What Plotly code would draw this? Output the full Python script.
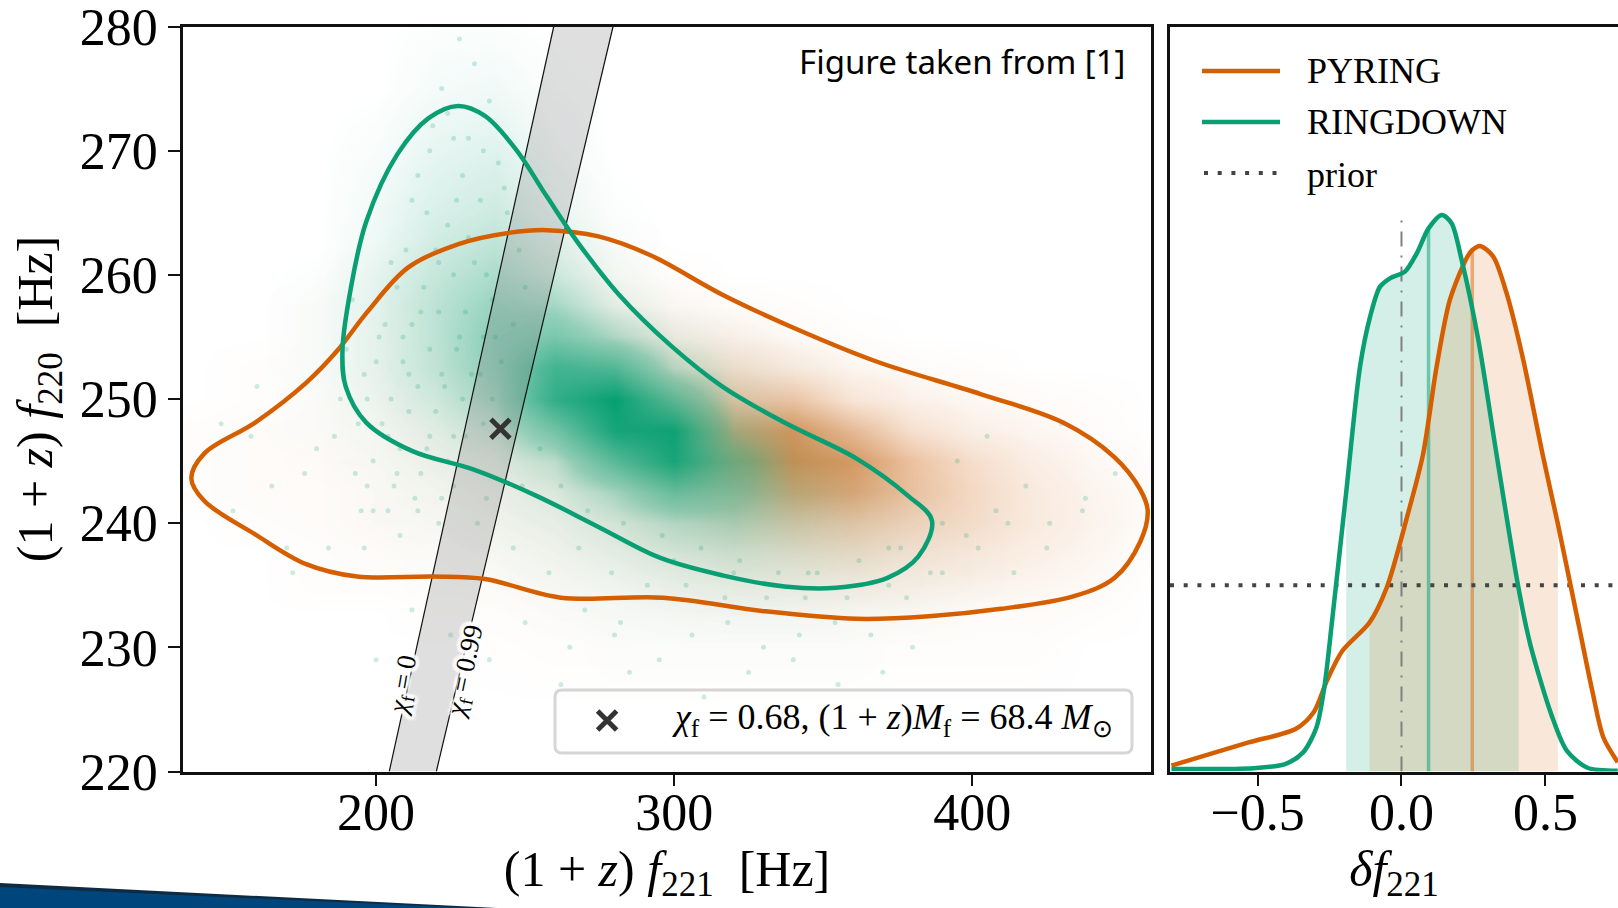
import plotly.graph_objects as go

ORANGE = "#D55E00"
GREEN = "#0A9E73"
SERIF = "Liberation Serif"
W, H = 1618, 908

# ---- left panel data
orange_cx = [257.3,274.6,291.9,316.2,340.4,368.1,402.8,430.5,447.8,456.4,458.9,456.4,447.8,433.9,409.7,385.5,361.2,330.5,296.3,262,236.5,219.4,193.6,176.5,159.4,142.3,138,142.3,159.4,176.5,187,197,210.8,227.9,245,257.3]
orange_cy = [263.6,263.1,261.6,258.4,255.7,253.0,250.4,248.1,245.3,242.7,241,238.5,235.6,234.1,233.1,232.5,232.3,232.9,234,234,235.5,235.7,235.7,236.7,239.1,241.8,243.6,245.6,248.1,251.3,253.9,257.0,260.6,262.5,263.4,263.6]
green_cx = [227.5,236.5,246.9,257.3,267.7,281.5,298.9,316.2,337,361.2,378.5,386.5,381.9,371.6,354.3,337,316.2,295.4,274.6,253.8,233,212.2,196.7,189.8,188.7,191.5,196.7,207.1,217.5,227.5]
green_cy = [273.6,272.8,270.1,266.3,262.6,258.4,254.3,251,248.1,245.2,242.2,240.2,237.3,235.6,234.8,234.9,235.8,237.2,239.7,242.2,244.3,245.8,248.1,251,253.9,258.9,264.3,269.7,272.6,273.6]
chi0_x = [204.4, 259.6]
chi99_x = [220.2, 279.5]
chi_y = [220, 280]
mark_x = [241.7]
mark_y = [247.6]
legend_mark_x = [277.5]
legend_mark_y = [224.1]

dens_x = [140,160,180,200,220,240,260,280,300,320,340,360,380,400,420,440,460]
dens_y = [225,230,232.5,235,237.5,240,242.5,245,247.5,250,252.5,255,257.5,260,262.5,265,270,275,280]
orange_z = [
 [0,0,0,0,0,0,0,0,0,0,0,0,0,0,0,0,0],
 [0,0,0,0,0,.005,.01,.01,.01,.01,.01,.01,.01,.01,.01,0,0],
 [0,0,0,0,.01,.01,.02,.02,.02,.03,.03,.03,.03,.02,.02,.01,0],
 [0,0,.01,.01,.01,.02,.03,.03,.05,.07,.08,.10,.09,.07,.05,.03,0],
 [0,0,.01,.02,.02,.03,.04,.05,.08,.13,.22,.28,.22,.16,.10,.05,.01],
 [0,.01,.02,.03,.03,.04,.05,.08,.13,.28,.46,.50,.38,.28,.15,.07,.02],
 [.01,.02,.02,.03,.04,.05,.07,.10,.20,.46,.80,.80,.55,.33,.15,.06,.02],
 [.01,.02,.03,.03,.05,.06,.09,.14,.30,.72,1.0,.92,.55,.28,.11,.04,.01],
 [.01,.02,.02,.03,.05,.07,.10,.16,.34,.76,.95,.62,.25,.10,.05,.02,0],
 [0,.01,.02,.03,.04,.06,.10,.16,.28,.52,.52,.20,.08,.04,.02,.01,0],
 [0,.01,.01,.02,.04,.06,.09,.13,.20,.26,.14,.05,.02,.01,0,0,0],
 [0,0,.01,.02,.03,.05,.07,.09,.10,.08,.03,.01,0,0,0,0,0],
 [0,0,.01,.01,.03,.04,.05,.05,.04,.02,.01,0,0,0,0,0,0],
 [0,0,0,.01,.02,.03,.03,.03,.01,0,0,0,0,0,0,0,0],
 [0,0,0,0,.01,.02,.02,.01,0,0,0,0,0,0,0,0,0],
 [0,0,0,0,0,.01,.01,0,0,0,0,0,0,0,0,0,0],
 [0,0,0,0,0,0,0,0,0,0,0,0,0,0,0,0,0],
 [0,0,0,0,0,0,0,0,0,0,0,0,0,0,0,0,0],
 [0,0,0,0,0,0,0,0,0,0,0,0,0,0,0,0,0],
]
green_z = [
 [0,0,0,0,0,0,0,0,0,0,0,0,0,0,0,0,0],
 [0,0,0,0,0,0,0,.01,.01,.01,.01,.01,0,0,0,0,0],
 [0,0,0,0,0,0,.01,.02,.03,.03,.03,.02,.01,0,0,0,0],
 [0,0,0,0,.01,.01,.02,.04,.06,.07,.06,.04,.02,.01,0,0,0],
 [0,0,0,0,.01,.02,.04,.07,.11,.13,.09,.05,.02,.01,0,0,0],
 [0,0,0,.01,.02,.04,.06,.11,.20,.22,.12,.05,.02,.01,0,0,0],
 [0,0,0,.01,.03,.05,.09,.24,.50,.35,.13,.04,.01,0,0,0,0],
 [0,0,0,.02,.05,.08,.18,.58,.90,.42,.08,.02,0,0,0,0,0],
 [0,0,.01,.03,.08,.15,.45,.92,.95,.20,.03,.01,0,0,0,0,0],
 [0,0,.01,.05,.13,.26,.78,1.0,.55,.07,.01,0,0,0,0,0,0],
 [0,0,.02,.07,.17,.32,.70,.62,.18,.03,.01,0,0,0,0,0,0],
 [0,0,.02,.07,.18,.33,.42,.22,.05,.01,0,0,0,0,0,0,0],
 [0,0,.02,.08,.18,.29,.25,.07,.01,0,0,0,0,0,0,0,0],
 [0,0,.01,.07,.16,.23,.14,.03,0,0,0,0,0,0,0,0,0],
 [0,0,0,.05,.13,.18,.09,.02,0,0,0,0,0,0,0,0,0],
 [0,0,0,.04,.11,.14,.06,.01,0,0,0,0,0,0,0,0,0],
 [0,0,0,.02,.07,.09,.03,0,0,0,0,0,0,0,0,0,0],
 [0,0,0,0,.03,.04,.01,0,0,0,0,0,0,0,0,0,0],
 [0,0,0,0,.01,.01,0,0,0,0,0,0,0,0,0,0,0],
]
speck_x = [228,233,222,219,226,238,214,229,241,217,224,235,210,220,231,244,207,216,226,237,248,203,212,221,230,239,250,200,209,218,227,236,246,197,205,214,223,232,242,194,202,211,220,229,239,192,199,208,217,226,236,190,197,206,215,224,186,195,204,213,222,180,188,176,170,165,158,152,148,160,172,184,196,208,221,234,246,258,270,282,294,306,318,330,342,354,366,378,390,402,414,426,438,448,395,405,418,430,380,370,355,340,325,310,295,280,265,250,238,225,212,200,300,320,345,372,390,408,285,262,
 224,231,218,236,212,227,243,205,221,233,215,201,209,228,240,196,211,222,235,204,218,230,193,207,226,199,214,237,249,255,262,271,283,296,309,322,335,348,362,376,268,279,291,304,317,331,344,358,372,386,398,412,425,437]
speck_y = [279,277,275,272,271,274,268,268,269,265,264,266,262,262,263,265,259,259,260,260,262,256,256,257,257,258,259,253,253,254,254,255,256,250,250,251,251,252,253,248,248,249,249,250,250,258,245,246,246,247,248,254,243,243,244,245,247,241,241,242,242,246,250,244,238,243,247,241,248,251,236,238,238,239,240,240,238,236,233,232,234,231,232,230,231,232,231,234,236,238,236,240,242,244,245,247,243,248,230,228,227,229,228,226,229,231,230,232,229,231,233,229,237,236,236,238,240,241,228,227,
 273,271,270,270,266,266,267,261,261,261,257,255,255,255,255,252,252,252,252,247,247,247,244,244,243,241,241,242,243,246,243,241,240,239,238,237,236,236,237,238,238,236,235,235,234,234,234,234,235,236,239,240,238,241]

# ---- right panel data
orange_kx = [-0.799,-0.531,-0.368,-0.305,-0.259,-0.205,-0.111,-0.051,0.022,0.075,0.122,0.168,0.226,0.246,0.273,0.319,0.365,0.423,0.490,0.543,0.610,0.665,0.701,0.751]
orange_ky = [0.016,0.078,0.114,0.159,0.244,0.324,0.400,0.494,0.691,0.852,1.087,1.266,1.378,1.400,1.411,1.382,1.284,1.105,0.852,0.665,0.414,0.208,0.092,0.025]
green_kx = [-0.799,-0.513,-0.404,-0.341,-0.295,-0.268,-0.241,-0.192,-0.144,-0.109,-0.075,-0.040,0.012,0.053,0.094,0.140,0.174,0.209,0.267,0.330,0.407,0.447,0.520,0.574,0.646,0.751]
green_ky = [0.007,0.009,0.020,0.052,0.119,0.226,0.405,0.750,1.087,1.221,1.301,1.324,1.342,1.391,1.458,1.494,1.472,1.373,1.158,0.852,0.490,0.342,0.154,0.056,0.010,0.002]
orange_ci = (-0.111, 0.543)
green_ci = (-0.192, 0.407)
orange_med, orange_med_h = 0.246, 1.400
green_med, green_med_h = 0.094, 1.458
prior_x = [-0.804, 0.752]
prior_y = [0.5, 0.5]
zero_x = [0, 0]
zero_y = [0, 1.494]

fig = go.Figure()

# densities
fig.add_trace(go.Heatmap(x=dens_x, y=dens_y, z=orange_z, zsmooth="best", showscale=False, zmin=0, zmax=1,
    colorscale=[[0, "rgba(213,110,30,0)"], [0.1, "rgba(222,135,70,0.14)"], [1, "rgba(205,115,40,0.8)"]], hoverinfo="skip"))
fig.add_trace(go.Heatmap(x=dens_x, y=dens_y, z=green_z, zsmooth="best", showscale=False, zmin=0, zmax=1,
    colorscale=[[0, "rgba(0,158,115,0)"], [0.3, "rgba(0,158,115,0.42)"], [1, "rgba(0,158,110,0.98)"]], hoverinfo="skip"))
fig.add_trace(go.Scatter(x=speck_x, y=speck_y, mode="markers", showlegend=False,
    marker=dict(color="#009E73", size=5, opacity=0.2, line=dict(width=0))))

# spin band
fig.add_trace(go.Scatter(x=chi0_x + chi99_x[::-1], y=chi_y + chi_y[::-1], mode="lines", fill="toself",
    fillcolor="rgba(128,128,128,0.25)", line=dict(width=0), showlegend=False))
fig.add_trace(go.Scatter(x=chi0_x, y=chi_y, mode="lines", line=dict(color="#111", width=1.2), showlegend=False))
fig.add_trace(go.Scatter(x=chi99_x, y=chi_y, mode="lines", line=dict(color="#111", width=1.2), showlegend=False))

# contours
fig.add_trace(go.Scatter(x=orange_cx, y=orange_cy, mode="lines", showlegend=False,
    line=dict(color=ORANGE, width=4.5, shape="spline", smoothing=1.0)))
fig.add_trace(go.Scatter(x=green_cx, y=green_cy, mode="lines", showlegend=False,
    line=dict(color=GREEN, width=4.5, shape="spline", smoothing=1.0)))
fig.add_trace(go.Scatter(x=mark_x, y=mark_y, mode="markers", showlegend=False,
    marker=dict(symbol="x-thin", size=19, color="#333333", line=dict(width=5, color="#333333"))))

# right panel: credible regions
def ci(xs, ys, lo, hi):
    keep = [(a, b) for a, b in zip(xs, ys) if lo <= a <= hi]
    return [k[0] for k in keep], [k[1] for k in keep]

ox, oy = ci(orange_kx, orange_ky, *orange_ci)
gx, gy = ci(green_kx, green_ky, *green_ci)
fig.add_trace(go.Scatter(x=gx, y=gy, xaxis="x2", yaxis="y2", mode="lines", fill="tozeroy",
    fillcolor="rgba(0,158,115,0.17)", line=dict(width=0, shape="spline"), showlegend=False))
fig.add_trace(go.Scatter(x=ox, y=oy, xaxis="x2", yaxis="y2", mode="lines", fill="tozeroy",
    fillcolor="rgba(213,94,0,0.15)", line=dict(width=0, shape="spline"), showlegend=False))
fig.add_trace(go.Scatter(x=[green_med, green_med], y=[0, green_med_h], xaxis="x2", yaxis="y2", mode="lines",
    line=dict(color="rgba(0,158,115,0.5)", width=3.5), showlegend=False))
fig.add_trace(go.Scatter(x=[orange_med, orange_med], y=[0, orange_med_h], xaxis="x2", yaxis="y2", mode="lines",
    line=dict(color="rgba(213,94,0,0.45)", width=3.5), showlegend=False))
fig.add_trace(go.Scatter(x=zero_x, y=zero_y, xaxis="x2", yaxis="y2", mode="lines",
    line=dict(color="#808080", width=2, dash="15px,9px,2px,9px"), showlegend=False))
fig.add_trace(go.Scatter(x=prior_x, y=prior_y, xaxis="x2", yaxis="y2", mode="lines", name="prior",
    line=dict(color="#444444", width=4, dash="4px,9.7px"), showlegend=False))
fig.add_trace(go.Scatter(x=orange_kx, y=orange_ky, xaxis="x2", yaxis="y2", mode="lines", name="PYRING",
    line=dict(color=ORANGE, width=4.5, shape="spline", smoothing=0.8), showlegend=False))
fig.add_trace(go.Scatter(x=green_kx, y=green_ky, xaxis="x2", yaxis="y2", mode="lines", name="RINGDOWN",
    line=dict(color=GREEN, width=4.5, shape="spline", smoothing=0.8), showlegend=False))
fig.add_trace(go.Scatter(x=legend_mark_x, y=legend_mark_y, mode="markers", showlegend=False,
    marker=dict(symbol="x-thin", size=19, color="#333333", line=dict(width=5, color="#333333"))))

def px(v): return v / W
def py(v): return 1 - v / H

axis_common = dict(showgrid=False, zeroline=False, showline=True, linecolor="#111", linewidth=2.5,
                   ticks="outside", ticklen=12, tickwidth=2, tickcolor="#111", ticklabeloverflow="allow",
                   automargin=False, tickfont=dict(family=SERIF, size=52, color="black"))
title_font = dict(family=SERIF, size=50, color="black")

fig.update_layout(
    width=W, height=H, autosize=False, margin=dict(l=0, r=0, t=0, b=0), paper_bgcolor="white", plot_bgcolor="white",
    showlegend=False,
    xaxis=dict(domain=[px(183), px(1151)], range=[135.2, 460], tickvals=[200, 300, 400], mirror=True, ticklabelstandoff=-19,
               title=dict(text="(1 + <i>z</i>) <i>f</i><sub>221</sub>  [Hz]", font=title_font, standoff=10), **axis_common),
    yaxis=dict(domain=[py(771.5), py(26.5)], range=[220, 280], tickvals=[220, 230, 240, 250, 260, 270, 280], mirror=True,
               title=dict(text="(1 + <i>z</i>) <i>f</i><sub>220</sub>  [Hz]", font=title_font, standoff=12), **axis_common),
    xaxis2=dict(domain=[px(1170), 1], range=[-0.804, 0.752], tickvals=[-0.5, 0, 0.5], ticktext=["−0.5", "0.0", "0.5"],
                anchor="y2", mirror=True, ticklabelstandoff=-19,
                title=dict(text="<i>δf</i><sub>221</sub>", font=title_font, standoff=10), **axis_common),
    yaxis2=dict(domain=[py(771.5), py(26.5)], range=[0, 2.0], anchor="x2", showgrid=False, zeroline=False,
                automargin=False, showline=True, linecolor="#111", linewidth=2.5, showticklabels=False, ticks=""),
)

def box_path(x0, y0, x1, y1, r):
    a, b, c, d = px(x0), py(y0), px(x1), py(y1)
    rx, ry = r / W, r / H
    return (f"M {a+rx} {b} L {c-rx} {b} Q {c} {b} {c} {b-ry} L {c} {d+ry} Q {c} {d} {c-rx} {d} "
            f"L {a+rx} {d} Q {a} {d} {a} {d+ry} L {a} {b-ry} Q {a} {b} {a+rx} {b} Z")

shapes = [
    dict(type="path", xref="paper", yref="paper", path=box_path(555, 690, 1132, 753, 7),
         fillcolor="rgba(255,255,255,0.8)", line=dict(color="#D6D6D6", width=3), layer="below"),
    dict(type="path", xref="paper", yref="paper",
         path=f"M 0 {py(883)} L {px(497)} {py(908)} L 0 {py(908)} Z", fillcolor="#0D2B42", line=dict(width=0)),
    dict(type="path", xref="paper", yref="paper",
         path=f"M 0 {py(887)} L {px(470)} {py(908)} L 0 {py(908)} Z", fillcolor="#00457C", line=dict(width=0)),
    dict(type="line", xref="paper", yref="paper", x0=px(1202), x1=px(1280), y0=py(71), y1=py(71), line=dict(color=ORANGE, width=4.5)),
    dict(type="line", xref="paper", yref="paper", x0=px(1202), x1=px(1280), y0=py(122), y1=py(122), line=dict(color=GREEN, width=4.5)),
    dict(type="line", xref="paper", yref="paper", x0=px(1204), x1=px(1278), y0=py(173), y1=py(173),
         line=dict(color="#444444", width=4, dash="4px,9.7px")),
]
fig.update_layout(shapes=shapes)

def note(text, x, y, size, family=SERIF, anchor="left", angle=0, shadow=None, **kw):
    font = dict(family=family, size=size, color="black")
    if shadow:
        font["shadow"] = shadow
    fig.add_annotation(text=text, xref="paper", yref="paper", x=px(x), y=py(y), xanchor=anchor, yanchor="middle",
                       showarrow=False, textangle=angle, font=font, **kw)

HALO = ",".join(f"white {a}px {b}px 2px" for a, b in [(0, 4), (0, -4), (4, 0), (-4, 0), (3, 3), (-3, 3), (3, -3), (-3, -3), (0, 0)])
note("PYRING", 1305, 71, 36)
note("RINGDOWN", 1305, 122, 36)
note("prior", 1305, 175, 36)
note("Figure taken from [1]", 1127, 62, 33, family="Noto Sans", anchor="right")
note("<i>χ</i><sub>f</sub> = 0.68, (1 + <i>z</i>)<i>M</i><sub>f</sub> = 68.4 <i>M</i><sub>⊙</sub>", 670, 719, 36)
note("<i>χ</i><sub>f</sub>\u2009=\u20090", 404, 686, 27, anchor="center", angle=-80, shadow=HALO)
note("<i>χ</i><sub>f</sub>\u2009=\u20090.99", 466, 672, 27, anchor="center", angle=-78, shadow=HALO)

fig.write_html("out.html", config={"responsive": False, "displayModeBar": False},
               post_script="document.body.style.margin='0';document.body.style.overflow='hidden';")
